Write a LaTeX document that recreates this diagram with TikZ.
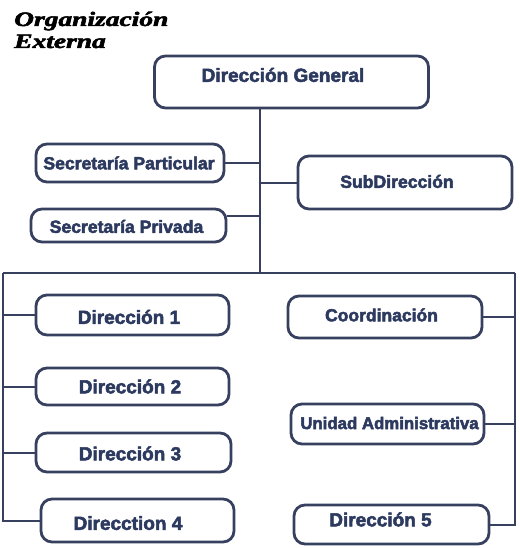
\documentclass[tikz,border=0pt]{standalone}
\usepackage{fontspec}
\setmainfont{Liberation Sans}
\newfontfamily\titlefont{Liberation Serif}
\usetikzlibrary{calc}
\definecolor{lineC}{RGB}{55,65,95}
\definecolor{textC}{RGB}{45,58,95}
% heavier text: fill and stroke the glyphs
\newcommand\heavy[1]{\special{pdf:literal direct 2 Tr 0.5 w}#1\special{pdf:literal direct 0 Tr}}
% text placed with offset (dx right, dy down, in px) from the box centre
\newcommand\bt[3]{\raisebox{\dimexpr -#2pt-0.36em\relax}[0pt][0pt]{\makebox[0pt]{\hspace*{\dimexpr #1pt*2\relax}\heavy{#3}}}}
\begin{document}
\begin{tikzpicture}[x=1pt,y=-1pt,
  box/.style={draw=lineC, line width=2.8pt, rounded corners=11pt, inner sep=0pt,
    text=textC, font=\bfseries, minimum width=#1},
  link/.style={draw=lineC, line width=2pt},
  ttl/.style={anchor=base west, inner sep=0pt, font=\titlefont\bfseries\itshape\fontsize{20.5}{24}\selectfont}]
\path[use as bounding box] (0,0) rectangle (519,548);

\node[ttl] (t1) at (14,26) {\scalebox{1.34}[1]{\heavy{Organización}}};
\node[ttl] (t2) at (14,48) {\scalebox{1.34}[1]{\heavy{Externa}}};

\node[box=274pt, minimum height=52pt, font=\bfseries\fontsize{19}{22}\selectfont] (dg) at (291.5,82) {\bt{-8.5}{-7}{Dirección General}};
\node[box=188pt, minimum height=38pt, font=\bfseries\fontsize{17.6}{20}\selectfont] (sp1) at (130,163) {\bt{-1}{0}{Secretaría Particular}};
\node[box=214pt, minimum height=53pt, font=\bfseries\fontsize{17.6}{20}\selectfont] (sub) at (405,182.5) {\bt{-8}{-1}{SubDirección}};
\node[box=195pt, minimum height=33pt, font=\bfseries\fontsize{17.6}{20}\selectfont] (sp2) at (128.5,225.5) {\bt{-2}{1}{Secretaría Privada}};

\node[box=193pt, minimum height=40pt, font=\bfseries\fontsize{19}{22}\selectfont] (d1) at (132.5,315) {\bt{-3.5}{2}{Dirección 1}};
\node[box=193pt, minimum height=37pt, font=\bfseries\fontsize{19}{22}\selectfont] (d2) at (132.5,386.5) {\bt{-2.5}{0}{Dirección 2}};
\node[box=195pt, minimum height=39pt, font=\bfseries\fontsize{19}{22}\selectfont] (d3) at (133.5,452.5) {\bt{-3.5}{1}{Dirección 3}};
\node[box=193pt, minimum height=43pt, font=\bfseries\fontsize{19}{22}\selectfont] (d4) at (137.5,520.5) {\bt{-9.5}{2.5}{Direcction 4}};

\node[box=194pt, minimum height=42pt, font=\bfseries\fontsize{17.5}{20}\selectfont] (co) at (385,317) {\bt{-3.5}{-2}{Coordinación}};
\node[box=193pt, minimum height=40pt, font=\bfseries\fontsize{16.8}{20}\selectfont] (ua) at (387.5,424) {\bt{2}{-1}{Unidad Administrativa}};
\node[box=195pt, minimum height=39pt, font=\bfseries\fontsize{19}{22}\selectfont] (d5) at (391.5,524.5) {\bt{-11}{-5}{Dirección 5}};

\coordinate (hub) at (260,273);
\coordinate (barL) at (3,273);
\coordinate (barR) at (515,273);

\draw[link] (dg.south -| hub) -- (hub);
\draw[link] (barL) -- (barR);
\draw[link] (sp1.east) -- (sp1.east -| hub);
\draw[link] (sub.west) -- (sub.west -| hub);
\draw[link] ([yshift=9.5pt]sp2.east) -- ([yshift=9.5pt]sp2.east -| hub);

\draw[link] (barL) -- (barL |- d4.west) -- (d4.west);
\draw[link] (d1.west) -- (d1.west -| barL);
\draw[link] (d2.west) -- (d2.west -| barL);
\draw[link] (d3.west) -- (d3.west -| barL);

\draw[link] (barR) -- (barR |- d5.east) -- (d5.east);
\draw[link] (co.east) -- (co.east -| barR);
\draw[link] (ua.east) -- (ua.east -| barR);
\end{tikzpicture}
\end{document}
